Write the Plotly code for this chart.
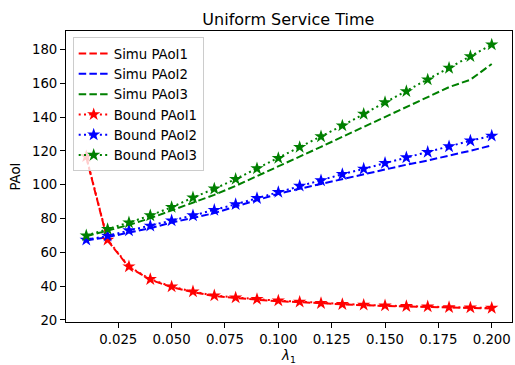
import plotly.graph_objects as go

# arrival rate of source 1
lam = [0.01, 0.02, 0.03, 0.04, 0.05, 0.06, 0.07, 0.08, 0.09, 0.10,
       0.11, 0.12, 0.13, 0.14, 0.15, 0.16, 0.17, 0.18, 0.19, 0.20]

# simulated peak age of information
simu1 = [116.2, 67.0, 51.2, 43.8, 39.4, 36.5, 34.1, 32.9, 32.0, 31.1,
         30.4, 29.7, 29.1, 28.7, 28.3, 27.9, 27.7, 27.3, 27.1, 26.8]
simu2 = [67.0, 69.0, 71.7, 74.3, 77.6, 80.2, 83.2, 87.1, 91.0, 94.6,
         97.6, 100.5, 103.3, 106.2, 108.8, 111.8, 114.3, 117.1, 120.1, 123.2]
simu3 = [69.5, 72.7, 76.2, 80.2, 84.7, 89.1, 94.0, 99.3, 105.0, 110.9,
         116.7, 122.4, 128.3, 134.2, 140.0, 145.9, 152.2, 157.7, 162.1, 171.4]

# analytical upper bounds
bound1 = [116.7, 67.4, 51.6, 44.1, 39.7, 36.8, 34.4, 33.2, 32.3, 31.4,
          30.7, 29.9, 29.3, 28.9, 28.5, 28.1, 27.9, 27.5, 27.3, 27.1]
bound2 = [67.4, 69.7, 72.9, 75.7, 78.8, 81.8, 85.0, 88.4, 92.0, 95.6,
          99.3, 102.5, 106.2, 109.4, 112.8, 116.1, 119.3, 122.6, 126.0, 128.9]
bound3 = [69.9, 73.7, 77.6, 81.8, 86.7, 92.4, 97.6, 103.3, 109.6, 115.7,
          122.2, 128.5, 134.9, 141.8, 148.7, 155.2, 162.1, 169.0, 175.9, 182.8]

x_ticks = [0.025, 0.050, 0.075, 0.100, 0.125, 0.150, 0.175, 0.200]
x_tick_text = ["0.025", "0.050", "0.075", "0.100", "0.125", "0.150", "0.175", "0.200"]
y_ticks = [20, 40, 60, 80, 100, 120, 140, 160, 180]

RED, BLUE, GREEN = "#ff0000", "#0000ff", "#008000"
DASHED = "7.5px,3.2px"
DOTTED = "2px,3.3px"
FONT = "DejaVu Sans"

fig = go.Figure()
for name, ys, color in [("Simu PAoI1", simu1, RED),
                        ("Simu PAoI2", simu2, BLUE),
                        ("Simu PAoI3", simu3, GREEN)]:
    fig.add_trace(go.Scatter(x=lam, y=ys, name=name, mode="lines",
                             line=dict(color=color, width=2, dash=DASHED)))
for name, ys, color in [("Bound PAoI1", bound1, RED),
                        ("Bound PAoI2", bound2, BLUE),
                        ("Bound PAoI3", bound3, GREEN)]:
    fig.add_trace(go.Scatter(x=lam, y=ys, name=name, mode="lines+markers",
                             line=dict(color=color, width=2, dash=DOTTED),
                             marker=dict(symbol="star", size=10, color=color,
                                         line=dict(width=0))))

axis_common = dict(showgrid=False, zeroline=False, showline=True,
                   linecolor="black", linewidth=1, mirror=True,
                   ticks="outside", ticklen=5, tickwidth=1, tickcolor="black",
                   tickfont=dict(family=FONT, size=13.3, color="black"))

fig.update_layout(
    width=515, height=365,
    margin=dict(l=66, r=3, t=31, b=43),
    plot_bgcolor="white", paper_bgcolor="white",
    font=dict(family=FONT, color="black"),
    title=dict(text="Uniform Service Time", x=0.56, xanchor="center",
               y=1 - 19 / 365, yanchor="middle", yref="container",
               font=dict(family=FONT, size=16, color="black")),
    xaxis=dict(range=[0.0005, 0.2095], tickvals=x_ticks, ticktext=x_tick_text,
               title=dict(text="<i>λ</i><sub>1</sub>", standoff=6,
                          font=dict(family=FONT, size=13.3)),
               **axis_common),
    yaxis=dict(range=[18.8, 190.9], tickvals=y_ticks,
               title=dict(text="PAoI", standoff=8,
                          font=dict(family=FONT, size=13.3)),
               **axis_common),
    legend=dict(x=0.015, y=0.978, xanchor="left", yanchor="top",
                bgcolor="rgba(255,255,255,0.8)", bordercolor="#cccccc",
                borderwidth=1, font=dict(family=FONT, size=13.3),
                tracegroupgap=0),
    showlegend=True,
)

fig.write_html("out.html")
